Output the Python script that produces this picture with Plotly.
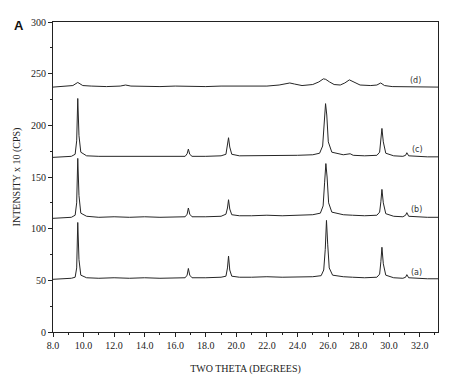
import plotly.graph_objects as go

# ---- data ----
two_theta_a = [8.0, 8.6, 9.2, 9.45, 9.55, 9.62, 9.7, 9.82, 10.2, 11.0, 12.0, 13.0, 14.0, 15.0, 16.0, 16.65,
               16.78, 16.86, 16.95, 17.1, 18.0, 19.0, 19.32, 19.42, 19.49, 19.57, 19.7, 20.2, 21.0, 22.0, 23.0,
               24.0, 25.0, 25.55, 25.72, 25.82, 25.9, 25.98, 26.08, 26.3, 27.0, 27.6, 28.4, 29.2, 29.38, 29.46,
               29.53, 29.62, 29.78, 30.3, 30.9, 31.08, 31.16, 31.28, 31.8, 32.5, 33.2]
intensity_a = [51, 51.5, 52, 53, 62, 106, 70, 55, 52.5, 52, 52.5, 52, 52.5, 52, 52.5, 52.5,
               55, 61.5, 55, 52.5, 52.5, 53, 54, 62, 73.5, 60, 54, 53, 53, 53.5, 53,
               53, 53.5, 54.5, 60, 80, 108, 85, 62, 55, 53.5, 53, 52.5, 53, 56, 68,
               82, 66, 55, 52.5, 52, 53, 55.5, 52.5, 52, 51.5, 51.5]

two_theta_b = [8.0, 8.6, 9.2, 9.45, 9.55, 9.62, 9.7, 9.82, 10.2, 11.0, 12.0, 13.0, 14.0, 15.0, 16.0, 16.65,
               16.78, 16.86, 16.95, 17.1, 18.0, 19.0, 19.32, 19.42, 19.49, 19.57, 19.7, 20.2, 21.0, 22.0, 23.0,
               24.0, 25.0, 25.5, 25.68, 25.78, 25.86, 25.94, 26.04, 26.25, 27.0, 27.6, 28.4, 29.2, 29.38, 29.46,
               29.53, 29.62, 29.78, 30.3, 30.9, 31.08, 31.16, 31.28, 31.8, 32.5, 33.2]
intensity_b = [110, 110.5, 111, 113, 125, 168, 132, 115, 112, 111, 111.5, 111, 111.5, 111, 111.5, 111.5,
               114, 120, 114, 111.5, 111.5, 112, 114, 120, 128, 119, 113.5, 112.5, 112.5, 113, 112.5,
               113, 113.5, 115, 122, 145, 163, 150, 125, 116, 113.5, 113, 112.5, 113, 116, 126,
               138, 125, 114.5, 112, 111.5, 113, 115.5, 112, 111.5, 111, 111]

two_theta_c = [8.0, 8.6, 9.2, 9.45, 9.55, 9.62, 9.7, 9.82, 10.2, 11.0, 12.0, 13.0, 14.0, 15.0, 16.0, 16.65,
               16.78, 16.86, 16.95, 17.1, 18.0, 19.0, 19.32, 19.42, 19.49, 19.57, 19.7, 20.2, 21.0, 22.0, 23.0,
               24.0, 25.0, 25.45, 25.65, 25.76, 25.84, 25.92, 26.02, 26.25, 27.0, 27.45, 27.65, 28.4, 29.2, 29.38,
               29.46, 29.53, 29.62, 29.78, 30.3, 30.9, 31.08, 31.16, 31.28, 31.8, 32.5, 33.2]
intensity_c = [169, 169.5, 170, 172, 185, 226, 190, 174, 170.5, 170, 170, 169.5, 170, 169.5, 170, 170,
               172.5, 177, 172, 170, 170, 170.5, 172, 180, 188, 179, 172, 170.5, 170.5, 171, 170.5,
               171, 171.5, 173, 180, 205, 221, 210, 184, 174, 171.5, 172.5, 171, 170.5, 171, 174,
               186, 197, 184, 173, 170.5, 170, 171, 173.5, 170.5, 170, 169.5, 169.5]

two_theta_d = [8.0, 8.8, 9.3, 9.62, 9.95, 10.5, 11.5, 12.4, 12.75, 13.1, 14.0, 15.0, 16.0, 17.0, 18.0, 19.0,
               20.0, 21.0, 22.0, 22.8, 23.2, 23.5, 23.8, 24.3, 25.0, 25.4, 25.7, 25.85, 26.1, 26.4, 26.8,
               27.1, 27.4, 27.7, 28.1, 28.8, 29.2, 29.45, 29.7, 30.2, 31.0, 32.0, 33.2]
intensity_d = [237, 237.5, 238.5, 241.5, 238.5, 238, 237.5, 238, 239, 238, 237.5, 237.5, 238, 237.5, 237.5, 238,
               238, 238, 238, 239, 240.5, 241, 240, 238.5, 239.5, 242, 245, 244.5, 242, 239.5, 239,
               241, 244, 242, 239, 238.5, 239, 241, 238.5, 237.5, 237.5, 237, 237]

series_labels = ["(a)", "(b)", "(c)", "(d)"]
label_x = [31.8, 31.8, 31.85, 31.75]
label_y = [58, 119, 177, 243]

x_ticks = [8.0, 10.0, 12.0, 14.0, 16.0, 18.0, 20.0, 22.0, 24.0, 26.0, 28.0, 30.0, 32.0]
y_ticks = [0, 50, 100, 150, 200, 250, 300]

# ---- figure ----
fig = go.Figure()
line_style = dict(color="#262626", width=1)
for xs, ys in [(two_theta_a, intensity_a), (two_theta_b, intensity_b),
               (two_theta_c, intensity_c), (two_theta_d, intensity_d)]:
    fig.add_trace(go.Scatter(x=xs, y=ys, mode="lines", line=line_style,
                             showlegend=False, hoverinfo="skip"))

for lab, lx, ly in zip(series_labels, label_x, label_y):
    fig.add_annotation(x=lx, y=ly, text=lab, showarrow=False,
                       font=dict(family="DejaVu Sans", size=8, color="#333"))

fig.add_annotation(xref="paper", yref="paper", x=-0.088, y=0.99, xanchor="center", yanchor="middle",
                   text="<b>A</b>", showarrow=False,
                   font=dict(family="Liberation Sans", size=13, color="#111"))

axis_font = dict(family="Liberation Serif", size=10, color="#222")
fig.update_layout(
    width=460, height=378,
    margin=dict(l=53, r=22, t=22, b=46),
    paper_bgcolor="white", plot_bgcolor="white",
    xaxis=dict(range=[8.0, 33.2], tickvals=x_ticks, tickformat=".1f", automargin=False,
               ticks="outside", ticklen=4, tickcolor="#222", tickwidth=1,
               minor=dict(dtick=1, ticks="outside", ticklen=2, tickcolor="#222"),
               showline=True, linecolor="#222", linewidth=1, mirror=True,
               showgrid=False, zeroline=False, tickfont=axis_font,
               title=dict(text="TWO THETA (DEGREES)", font=axis_font, standoff=14)),
    yaxis=dict(range=[0, 300], tickvals=y_ticks, automargin=False,
               ticks="outside", ticklen=4, tickcolor="#222", tickwidth=1,
               minor=dict(dtick=25, ticks="outside", ticklen=2, tickcolor="#222"),
               showline=True, linecolor="#222", linewidth=1, mirror=True,
               showgrid=False, zeroline=False, tickfont=axis_font,
               title=dict(text="INTENSITY x 10 (CPS)", font=axis_font, standoff=8)),
)

fig.write_html("out.html", config={"displayModeBar": False},
               post_script="document.body.style.margin='0';")
